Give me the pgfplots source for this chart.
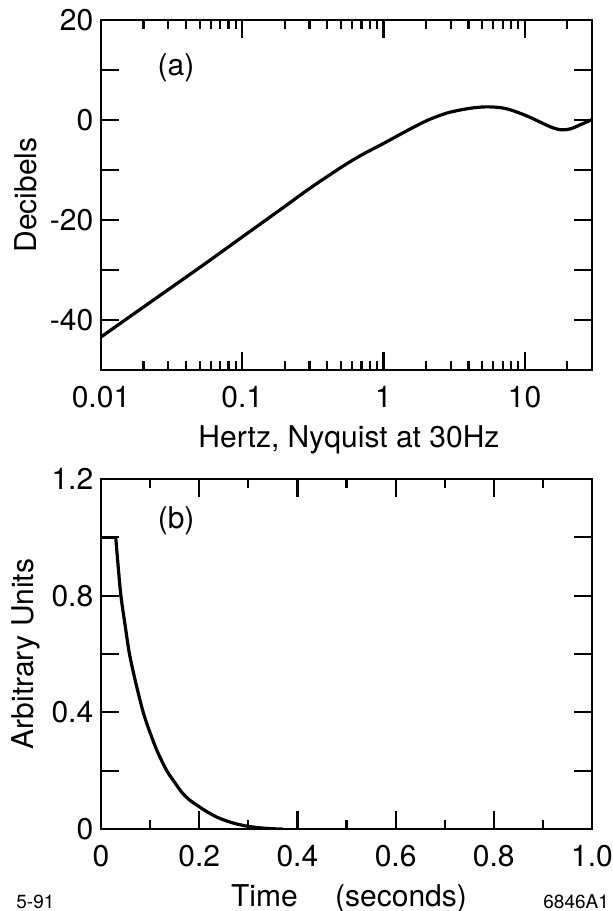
\documentclass[border=0pt]{standalone}
\usepackage{fontspec}
\setmainfont{TeX Gyre Heros}
\usepackage{pgfplots}
\pgfplotsset{compat=1.18}
\begin{document}
\fontsize{15}{18}\selectfont
\begin{tikzpicture}
\useasboundingbox (0pt,-455.5pt) rectangle (306pt,0pt);
\pgfplotsset{
  myaxis/.style={
    width=245.5pt, height=175pt, scale only axis,
    anchor=south west,
    axis line style={line width=1.3pt},
    tick style={line width=1.1pt, black},
    major tick length=9pt, minor tick length=4.5pt,
    tick align=inside,
    /pgf/number format/assume math mode=true,
    tick label style={font=\fontsize{15}{18}\selectfont},
    label style={font=\fontsize{15}{18}\selectfont},
    xticklabel style={yshift=-3pt},
    yticklabel style={xshift=1.3pt},
    every axis x label/.style={at={(axis description cs:0.505,-0.2)}, anchor=center},
    every axis y label/.style={at={(axis description cs:-0.153,0.5)}, rotate=90, anchor=center},
  }
}
\begin{axis}[myaxis, at={(50.5pt,-185pt)},
  xmode=log, log basis x=10,
  xmin=0.01, xmax=30, ymin=-50, ymax=20,
  xtick={0.01,0.1,1,10}, xticklabels={0.01,0.1,1,10},
  minor xtick={0.02,0.03,0.04,0.05,0.06,0.07,0.08,0.09,0.2,0.3,0.4,0.5,0.6,0.7,0.8,0.9,2,3,4,5,6,7,8,9,20,30},
  ytick={-40,-30,-20,-10,0,10,20}, yticklabels={-40,,-20,,0,,20},
  xlabel={Hertz, Nyquist at 30Hz}, ylabel={Decibels}]
\addplot[black, line width=1.6pt, smooth, tension=0.5] coordinates {
(0.01,-43.4) (0.02,-37.4) (0.05,-29.5) (0.1,-23.4) (0.2,-17.3) (0.3,-13.7)
(0.5,-9.5) (0.7,-7.0) (1,-4.7) (1.5,-2.0) (2,-0.2) (2.5,0.9) (3,1.6)
(4,2.3) (5,2.6) (6,2.6) (7,2.4) (8,2.0) (10,1.0) (12,0.0) (14,-0.9)
(16,-1.6) (18,-1.95) (20,-1.9) (22,-1.6) (25,-0.9) (28,-0.3) (30,0.1)
};
\node at (axis cs:0.034,10.4) {(a)};
\end{axis}
\begin{axis}[myaxis, at={(50.5pt,-414.5pt)},
  xmin=0, xmax=1, ymin=0, ymax=1.2,
  xtick={0,0.2,0.4,0.6,0.8,1.0}, xticklabels={0,0.2,0.4,0.6,0.8,1.0},
  minor xtick={0.1,0.3,0.5,0.7,0.9},
  ytick={0,0.2,0.4,0.6,0.8,1.0,1.2}, yticklabels={0,,0.4,,0.8,,1.2},
  xlabel={Time\hspace{1.25em}(seconds)}, ylabel={Arbitrary Units}]
\addplot[black, line width=1.6pt] coordinates {(0,1.0) (0.03,1.0)};
\addplot[black, line width=1.6pt, smooth, tension=0.5] coordinates {
(0.03,1.0) (0.035,0.90) (0.0405,0.80) (0.049,0.70) (0.058,0.60) (0.071,0.50)
(0.086,0.40) (0.100,0.33) (0.115,0.265) (0.134,0.20) (0.150,0.16) (0.165,0.125)
(0.18,0.10) (0.197,0.08) (0.215,0.06) (0.237,0.04) (0.257,0.027) (0.277,0.017)
(0.30,0.009) (0.325,0.004) (0.348,0.001) (0.37,0.0)
};
\node at (axis cs:0.153,1.056) {(b)};
\end{axis}
\node[anchor=base west, font=\fontsize{9.5}{11}\selectfont, inner sep=0pt] at (8pt,-454pt) {5-91};
\node[anchor=base west, font=\fontsize{9.5}{11}\selectfont, inner sep=0pt] at (271.5pt,-454pt) {6846A1};
\end{tikzpicture}
\end{document}
